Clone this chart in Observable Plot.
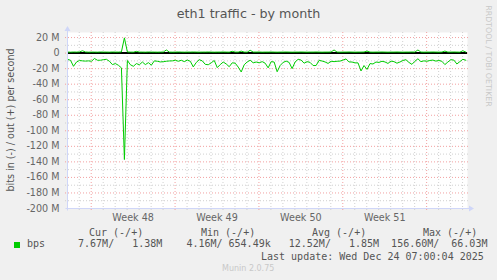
<!DOCTYPE html>
<html><head><meta charset="utf-8">
<script src="https://cdn.jsdelivr.net/npm/d3@7"></script>
<script src="https://cdn.jsdelivr.net/npm/@observablehq/plot@0.6"></script>
<style>
html,body{margin:0;padding:0;background:#f0f0f0;}
#wrap{position:relative;width:497px;height:280px;overflow:hidden;background:#f0f0f0;font-family:"DejaVu Sans";color:#666;}
#wrap svg{position:absolute;left:0;top:0;}
.t{position:absolute;white-space:pre;line-height:1;}
.mono{font-family:"DejaVu Sans Mono";font-size:10px;color:#555;}
</style></head>
<body><div id="wrap"></div>
<script>
// ---- data (values in M bits/s), 6-hour samples starting at t0 ----
const t0 = new Date(Date.UTC(2025, 10, 21, 0, 30));
const stepHours = 6;
const inValues = [
 -8, -9.2, -17, -11.5, -9.5, -10, -10.3, -10, -10.5, -7,
 -9.2, -9.2, -8.5, -8, -10.5, -14.8, -13.5, -15.7, -19, -137,
 -9.5, -15, -17, -13.5, -15, -11.5, -14.8, -12.3, -15.5, -10,
 -10.5, -11.4, -11, -10.5, -10.1, -10, -9.2, -10.5, -9.2, -11,
 -9, -10.5, -17.8, -12, -8.5, -10, -14.5, -15, -12.5, -9.5,
 -18.7, -14.8, -11.5, -14, -17.5, -12.5, -13, -18, -24.3, -15,
 -11.4, -9.2, -12.5, -11.5, -12.5, -11, -13, -19, -11, -11.5,
 -24, -16, -12, -10.3, -12, -20, -11.4, -8, -9, -13,
 -11, -12, -16, -16, -9.3, -10.2, -11.4, -13.3, -10.5, -11,
 -10.5, -10.3, -9, -7.5, -11.4, -11.5, -12.6, -12.6, -23, -16,
 -21, -13.5, -14, -11.5, -12, -10.5, -11.4, -13.3, -10.3, -11,
 -13, -11.5, -9.5, -8.5, -12, -14.5, -10.5, -7.3, -11, -10,
 -10.5, -9.5, -9, -10.3, -9.5, -10.5, -14.8, -11.5, -8.5, -9,
 -14, -11, -8, -9.2
];
const outValues = [
 1.3, 1.2, 1.4, 1.3, 1.5, 3.0, 1.4, 1.2, 1.3, 1.3,
 1.2, 1.4, 1.3, 1.3, 1.2, 1.4, 1.3, 1.3, 1.5, 19.6,
 1.4, 1.3, 1.2, 2.2, 1.3, 1.3, 1.2, 1.4, 1.3, 1.3,
 1.2, 1.3, 1.4, 4.0, 1.3, 1.2, 1.3, 1.4, 1.3, 1.2,
 1.3, 1.3, 1.4, 1.3, 1.2, 1.3, 1.3, 1.4, 1.3, 1.2,
 1.3, 1.3, 1.4, 1.3, 1.2, 2.3, 1.3, 1.3, 2.5, 1.3,
 1.2, 3.6, 1.3, 1.3, 1.4, 1.2, 1.3, 1.3, 1.4, 1.3,
 1.2, 1.3, 1.3, 1.4, 1.3, 1.2, 1.3, 1.3, 1.4, 1.3,
 1.2, 1.3, 1.3, 1.4, 1.3, 1.2, 1.3, 1.3, 1.4, 4.0,
 1.3, 1.2, 1.3, 1.3, 1.4, 1.3, 1.2, 1.3, 1.3, 1.4,
 2.6, 1.3, 1.2, 1.3, 1.3, 1.4, 1.3, 1.2, 1.3, 1.3,
 1.4, 1.3, 1.2, 1.3, 1.3, 1.4, 1.3, 4.0, 1.3, 1.2,
 1.3, 1.3, 1.4, 1.3, 1.2, 1.3, 2.6, 1.3, 1.3, 1.4,
 1.3, 1.2, 3.0, 1.3
];
// ---- axes / labels ----
const xDomain = [new Date(Date.UTC(2025, 10, 21, 0, 30)), new Date(Date.UTC(2025, 11, 24, 9, 50))];
const yDomain = [-200, 26.5];
const yTicks = [20, 0, -20, -40, -60, -80, -100, -120, -140, -160, -180, -200];
const weekStarts = [new Date(Date.UTC(2025,10,23)), new Date(Date.UTC(2025,10,30)), new Date(Date.UTC(2025,11,7)), new Date(Date.UTC(2025,11,14)), new Date(Date.UTC(2025,11,21))];
const weekLabels = ["Week 48", "Week 49", "Week 50", "Week 51"];
const title = "eth1 traffic - by month";
const yLabel = "bits in (-) / out (+) per second";
const legendName = "bps";
const legendHeaders = ["Cur (-/+)", "Min (-/+)", "Avg (-/+)", "Max (-/+)"];
const legendValues = "  7.67M/   1.38M    4.16M/ 654.49k   12.52M/   1.85M  156.60M/  66.03M";
const lastUpdate = "Last update: Wed Dec 24 07:00:04 2025";

// build tables
const msStep = stepHours * 3600e3;
const inData = inValues.map((v, i) => ({t: new Date(+t0 + i * msStep), v}));
const outData = outValues.map((v, i) => ({t: new Date(+t0 + i * msStep), v}));
const dayLines = d3.utcDay.range(d3.utcDay.ceil(xDomain[0]), xDomain[1]).filter(d => !weekStarts.some(w => +w === +d));
const weekMids = weekStarts.slice(0, weekLabels.length).map(d => new Date(+d + 3.5 * 864e5));
const minorY = d3.range(-190, 26, 20);
const majorY = yTicks.filter(v => v > -200);

const GREEN = "#00cc00", AXIS = "#cfd6f8", MINOR = "#d0d0d0", MAJOR = "#f2a0a0";
const plot = Plot.plot({
  width: 497, height: 225,
  marginLeft: 67, marginRight: 30, marginTop: 32, marginBottom: 17,
  style: {background: "transparent", fontFamily: "DejaVu Sans", fontSize: "9.6px", color: "#666", overflow: "visible"},
  x: {type: "utc", domain: xDomain},
  y: {domain: yDomain},
  marks: [
    Plot.frame({fill: "white", stroke: "none"}),
    Plot.ruleY(minorY, {stroke: MINOR, strokeDasharray: "1,2", insetLeft: -2, insetRight: -2}),
    Plot.ruleX(dayLines, {stroke: MINOR, strokeDasharray: "1,2", insetBottom: -2}),
    Plot.ruleY(majorY, {stroke: MAJOR, strokeDasharray: "1,2", insetLeft: -2, insetRight: -2}),
    Plot.ruleX(weekStarts, {stroke: MAJOR, strokeDasharray: "1,2", insetBottom: -2}),
    Plot.axisY({ticks: yTicks, tickSize: 0, tickPadding: 8, fill: "#666", fontSize: 9.6,
      tickFormat: d => d === 0 ? "0" : `${d} M`, label: null}),
    Plot.axisX({ticks: weekMids, tickSize: 0, tickPadding: 5.5, fill: "#666", fontSize: 9.6,
      tickFormat: (d, i) => weekLabels[i], label: null}),
    Plot.line(inData, {x: "t", y: "v", stroke: GREEN, strokeWidth: 1}),
    Plot.ruleY([0], {stroke: "black", strokeWidth: 2}),
    Plot.line(outData, {x: "t", y: "v", stroke: GREEN, strokeWidth: 1})
  ]
});
const wrap = document.getElementById("wrap");
wrap.appendChild(plot);

// axis lines with arrows (positions from the plot's scales)
const sx = plot.scale("x"), sy = plot.scale("y");
const X0 = Math.round(sx.apply(xDomain[0])) + 0.5;
const X1 = sx.apply(xDomain[1]);
const YB = Math.round(sy.apply(-200)) + 0.5;
const YT = sy.apply(yDomain[1]);
const svg = d3.select(plot);
const g = svg.append("g");
g.append("line").attr("x1", X0).attr("x2", X0).attr("y1", YB + 2).attr("y2", YT - 4).attr("stroke", AXIS);
g.append("line").attr("x1", X0 - 2).attr("x2", X1 + 3).attr("y1", YB).attr("y2", YB).attr("stroke", AXIS);
g.append("path").attr("d", `M${X0 - 3},${YT - 1}L${X0 + 3},${YT - 1}L${X0},${YT - 6}Z`).attr("fill", AXIS);
g.append("path").attr("d", `M${X1 + 2},${YB - 3}L${X1 + 2},${YB + 3}L${X1 + 7},${YB}Z`).attr("fill", AXIS);

// text around the chart
function addText(txt, left, baseline, size, cls, extra) {
  const d = document.createElement("div");
  d.className = "t " + (cls || "");
  d.textContent = txt;
  d.style.fontSize = size + "px";
  d.style.left = left + "px";
  d.style.top = (baseline - 0.846 * size) + "px";
  if (extra) Object.assign(d.style, extra);
  wrap.appendChild(d);
  return d;
}
addText(title, 248.5, 18.3, 12.7, "", {transform: "translateX(-50%)", color: "#555"});
// y label rotated
const yl = document.createElement("div");
yl.className = "t"; yl.textContent = yLabel;
Object.assign(yl.style, {fontSize: "9.6px", left: "11px", top: "120px", transform: "translate(-50%,-50%) rotate(-90deg)", color: "#555"});
wrap.appendChild(yl);
// watermark
const wm = document.createElement("div");
wm.className = "t"; wm.textContent = "RRDTOOL / TOBI OETIKER";
Object.assign(wm.style, {fontSize: "7.9px", left: "488px", top: "56px", transform: "translate(-50%,-50%) rotate(90deg)", color: "#c8c8c8"});
wrap.appendChild(wm);
// legend
const sq = document.createElement("div");
Object.assign(sq.style, {position: "absolute", left: "14px", top: "241.5px", width: "6px", height: "6px", background: GREEN});
wrap.appendChild(sq);
const hdrX = [89, 201, 312, 423];
legendHeaders.forEach((h, i) => addText(h, hdrX[i], 236, 10, "mono"));
addText(legendName, 27, 247.5, 10, "mono");
addText(legendValues, 66, 247.5, 10, "mono");
addText(lastUpdate, 261, 260, 10, "mono");
addText("Munin 2.0.75", 222, 271.7, 8, "", {color: "#c8c8c8"});
</script></body></html>
